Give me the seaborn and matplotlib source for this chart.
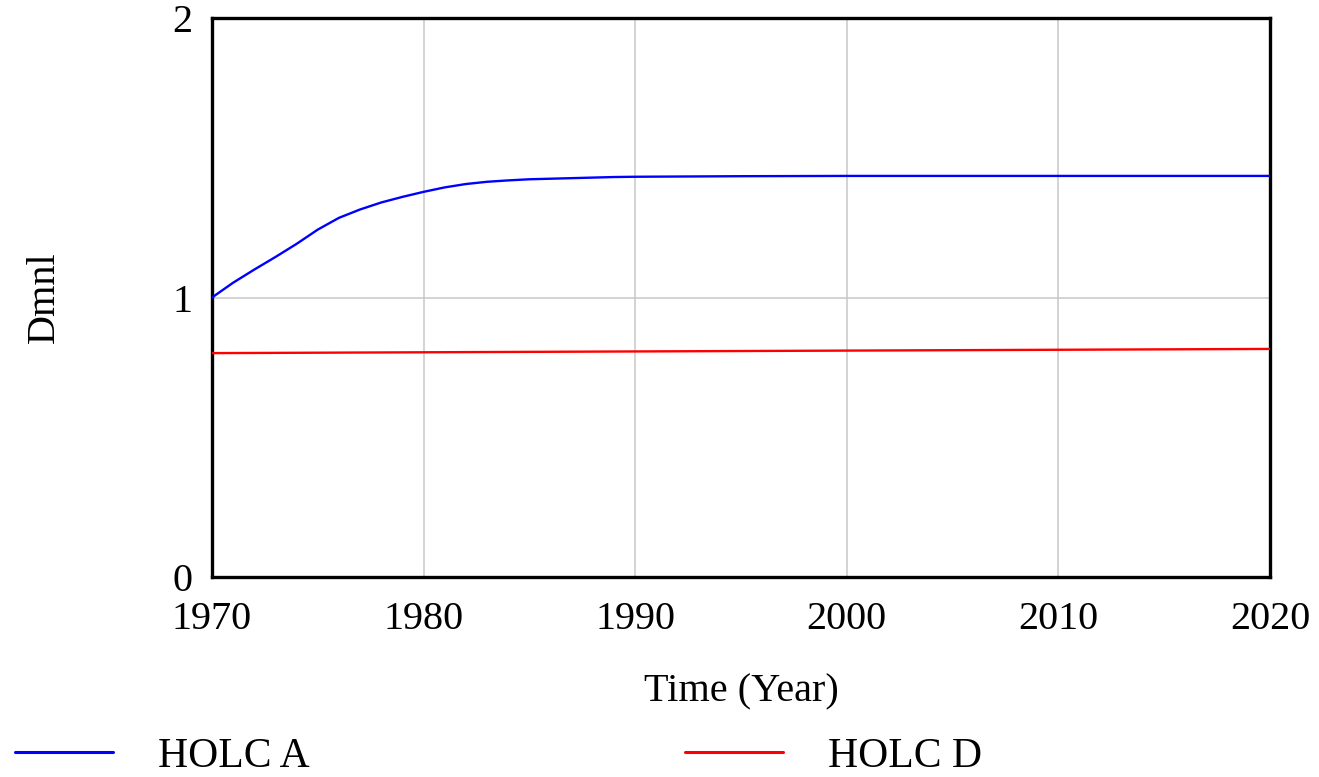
# HOLC A vs HOLC D over time (Vensim-style chart)

import pandas as pd
import seaborn as sns
import matplotlib.pyplot as plt
from matplotlib.lines import Line2D

sns.set_theme(style="white")
plt.rcParams['font.family'] = ['Liberation Serif', 'DejaVu Serif']

# values
years_a = [1970, 1971, 1972, 1973, 1974, 1975, 1976, 1977, 1978, 1979, 1980,
           1981, 1982, 1983, 1984, 1985, 1986, 1987, 1988, 1989, 1990,
           1995, 2000, 2010, 2020]
holc_a = [1.00, 1.053, 1.10, 1.145, 1.192, 1.243, 1.285, 1.315, 1.340, 1.360, 1.378,
          1.394, 1.406, 1.414, 1.419, 1.423, 1.425, 1.427, 1.429, 1.431, 1.432,
          1.434, 1.435, 1.435, 1.435]
years_d = [1970, 1980, 1990, 2000, 2010, 2020]
holc_d = [0.801, 0.804, 0.807, 0.810, 0.813, 0.816]

x_ticks = [1970, 1980, 1990, 2000, 2010, 2020]
y_ticks = [0, 1, 2]

df = pd.concat([
    pd.DataFrame({'Time': years_a, 'Value': holc_a, 'Series': 'HOLC A'}),
    pd.DataFrame({'Time': years_d, 'Value': holc_d, 'Series': 'HOLC D'}),
])
colors = {'HOLC A': '#0000ff', 'HOLC D': '#ff0000'}

fig = plt.figure(figsize=(13.19, 7.77), dpi=100)
ax = fig.add_axes([212 / 1319, 1 - 577 / 777, (1270 - 212) / 1319, (577 - 18) / 777])

g = sns.lineplot(data=df, x='Time', y='Value', hue='Series', palette=colors,
                 linewidth=1.7, ax=ax, legend=False, zorder=3)

ax.set_xlim(1970, 2020)
ax.set_ylim(0, 2)
ax.set_xticks(x_ticks)
ax.set_yticks(y_ticks)
ax.grid(True, color='#c8c8c8', linewidth=1.1)
ax.tick_params(axis='both', length=0, labelsize=29, colors='black')
ax.tick_params(axis='x', pad=17)
ax.tick_params(axis='y', pad=14)
for s in ax.spines.values():
    s.set_color('black')
    s.set_linewidth(2.4)

ax.set_xlabel('Time (Year)', fontsize=29, color='black', labelpad=26)
ax.set_ylabel('Dmnl', fontsize=29, color='black', labelpad=79)

handles = [Line2D([], [], color=colors[k], linewidth=2.2) for k in colors]
fig.legend(handles, list(colors), loc='lower left', bbox_to_anchor=(-14 / 1319, -28 / 777),
           ncol=2, frameon=False, fontsize=30, labelcolor='black', handlelength=2.35,
           handletextpad=1.08, columnspacing=9.0, borderpad=0.2)

fig.savefig('out.png', dpi=100)
